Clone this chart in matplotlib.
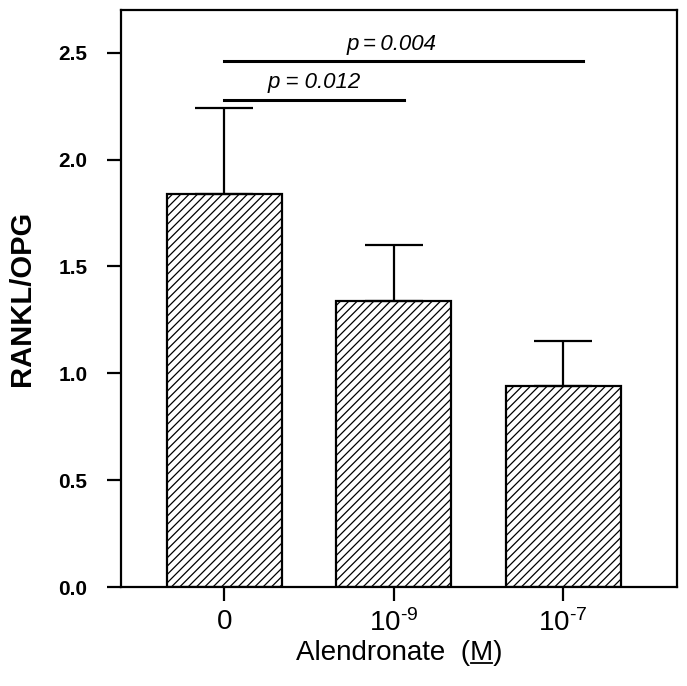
import numpy as np
import matplotlib
matplotlib.use("Agg")
import matplotlib.pyplot as plt

plt.rcParams['font.family'] = ['Liberation Sans', 'DejaVu Sans']
plt.rcParams['mathtext.fontset'] = 'custom'
plt.rcParams['mathtext.rm'] = 'Liberation Sans'
plt.rcParams['mathtext.it'] = 'Liberation Sans:italic'
plt.rcParams['hatch.linewidth'] = 0.9

# Data
groups = ['0', r'$10^{\text{-9}}$', r'$10^{\text{-7}}$']
means = [1.84, 1.34, 0.94]
sem = [0.40, 0.26, 0.21]
# significance brackets: (start, end, height, label, label x-offset)
sig = [(0.0, 1.06, 2.28, 'p = 0.012', 0.0),
       (0.0, 2.12, 2.46, 'p\u2009=\u20090.004', -0.07)]

fig = plt.figure(figsize=(6.87, 6.86), dpi=100)
ax = fig.add_axes([0.176, 0.1443, 0.809, 0.8411])

x = np.arange(len(groups))
ax.bar(x, means, width=0.68, color='white', edgecolor='black',
       linewidth=1.6, hatch='////', zorder=2)
ax.errorbar(x, means, yerr=[np.zeros(len(sem)), sem], fmt='none',
            ecolor='black', elinewidth=1.6, capsize=21, capthick=1.6,
            zorder=3)

for x0, x1, h, lab, dx in sig:
    ax.plot([x0, x1], [h, h], color='black', lw=2.2, zorder=3)
    ax.text((x0 + x1) / 2 + dx, h + 0.03, lab, ha='center', va='bottom',
            fontsize=16, style='italic')

ax.set_xlim(-0.61, 2.67)
ax.set_ylim(0, 2.7)
ax.set_xticks(x)
ax.set_xticklabels(groups, fontsize=20)
ax.set_yticks([0.0, 0.5, 1.0, 1.5, 2.0, 2.5])
ax.set_yticklabels(['0.0', '0.5', '1.0', '1.5', '2.0', '2.5'],
                   fontsize=15, fontweight='bold')
ax.tick_params(axis='both', direction='out', length=10, width=1.6)
ax.tick_params(axis='x', pad=6)
ax.tick_params(axis='y', pad=14)
for s in ax.spines.values():
    s.set_linewidth(1.6)

ax.set_ylabel('RANKL/OPG', fontsize=21, fontweight='bold', labelpad=16)
xl = ax.set_xlabel('Alendronate  (M)', fontsize=20, labelpad=2)

# underline the M in the x label
fig.canvas.draw()
r = fig.canvas.get_renderer()
bb = xl.get_window_extent(r)
pre = fig.text(0, 0, 'Alendronate  (', fontsize=20)
mtxt = fig.text(0, 0, 'M', fontsize=20)
pre_w = pre.get_window_extent(r).width
m_w = mtxt.get_window_extent(r).width
pre.remove()
mtxt.remove()
W, H = fig.bbox.width, fig.bbox.height
ux0 = (bb.x0 + pre_w + 1) / W
ux1 = (bb.x0 + pre_w + m_w - 1) / W
uy = (bb.y0 + 3) / H
fig.add_artist(plt.Line2D([ux0, ux1], [uy, uy], color='black', lw=1.3,
                          transform=fig.transFigure))

fig.savefig('out.png', dpi=100)
